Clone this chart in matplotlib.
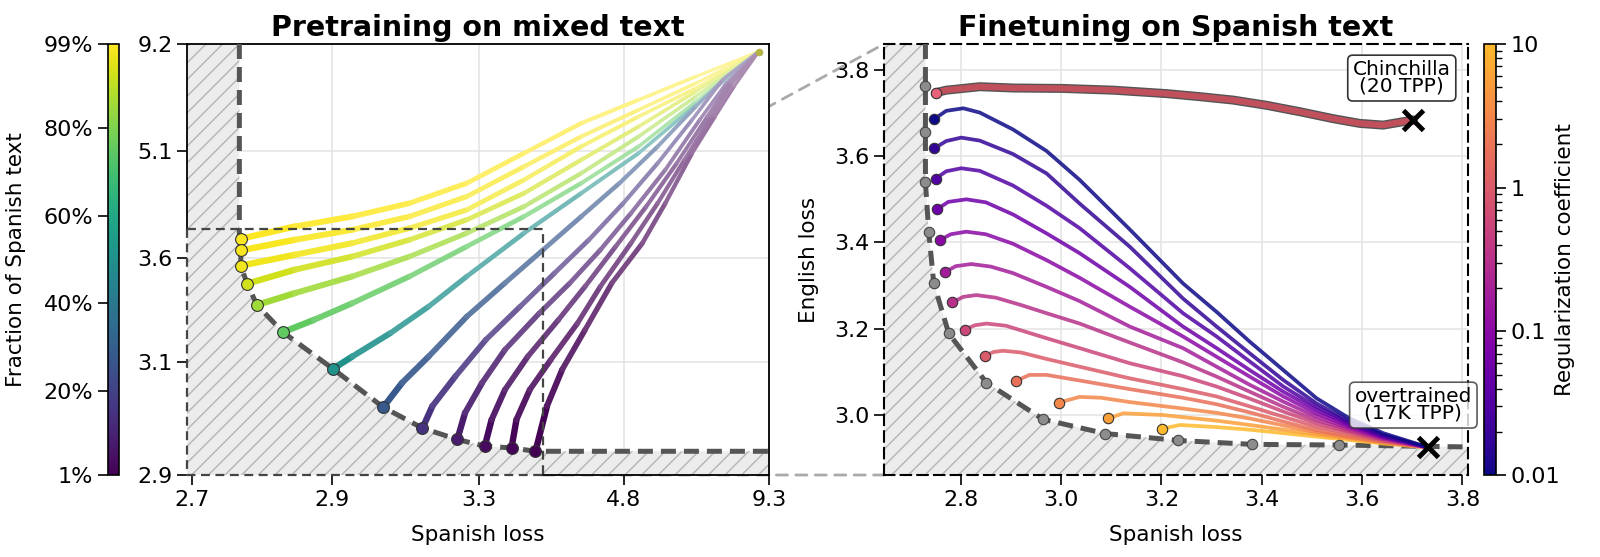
import numpy as np
import matplotlib
matplotlib.use("Agg")
import matplotlib.pyplot as plt
import matplotlib.patheffects as pe
from matplotlib.collections import LineCollection
from matplotlib.colors import Normalize, LogNorm, ListedColormap
from matplotlib.patches import Polygon, ConnectionPatch
from matplotlib.cm import ScalarMappable

plt.rcParams['font.family'] = 'DejaVu Sans'
plt.rcParams['hatch.linewidth'] = 1.0

# ---------------- left panel: pretraining runs ----------------
# warped loss axes: tick values and where they sit (in tick units)
pre_xticks = [2.7, 2.9, 3.3, 4.8, 9.3]
pre_yticks = [2.9, 3.1, 3.6, 5.1, 9.2]
pre_xknots = [2.6, 2.7, 2.9, 3.3, 4.8, 9.3, 10.0]
pre_xknot_pos = [-0.4875, 0, 0.975, 1.991, 2.995, 4.0, 4.156]
pre_yknots = [2.8, 2.9, 3.1, 3.6, 5.1, 9.2, 10.0]
pre_yknot_pos = [-0.524, 0, 1.048, 2.018, 3.008, 4.0, 4.19]

fractions = [99, 98, 97, 92, 85, 75, 50, 28, 15, 8, 4, 2, 1]  # % Spanish

# each run listed from the end of training back to the shared init point
pre_x = [
    [2.770, 2.847, 2.955, 3.111, 3.267, 3.767, 4.359, 5.256, 7.032, 8.985],
    [2.770, 2.847, 2.955, 3.111, 3.267, 3.767, 4.359, 5.256, 7.032, 8.985],
    [2.770, 2.847, 2.955, 3.111, 3.267, 3.767, 4.359, 5.256, 7.032, 8.985],
    [2.779, 2.847, 2.955, 3.111, 3.267, 3.767, 4.359, 5.256, 7.032, 8.985],
    [2.793, 2.847, 2.955, 3.111, 3.267, 3.767, 4.359, 5.256, 7.032, 8.985],
    [2.830, 2.874, 2.955, 3.111, 3.267, 3.767, 4.359, 5.256, 7.032, 8.985],
    [2.902, 2.955, 3.059, 3.163, 3.267, 3.767, 4.359, 5.256, 7.032, 8.985],
    [3.039, 3.090, 3.163, 3.267, 3.569, 3.964, 4.359, 4.754, 5.848, 7.032, 7.979, 8.985],
    [3.146, 3.173, 3.236, 3.372, 3.727, 4.083, 4.438, 4.794, 5.848, 6.914, 7.861, 8.985],
    [3.241, 3.262, 3.332, 3.569, 3.925, 4.241, 4.557, 5.019, 6.085, 7.150, 7.979, 8.985],
    [3.360, 3.431, 3.569, 3.806, 4.122, 4.399, 4.715, 5.493, 6.440, 7.387, 8.097, 8.985],
    [3.637, 3.688, 3.826, 4.043, 4.320, 4.557, 5.019, 5.848, 6.677, 7.506, 8.157, 8.985],
    [3.885, 4.004, 4.162, 4.399, 4.675, 5.374, 6.085, 6.914, 7.624, 8.216, 8.985],
]
pre_y = [
    [3.864, 4.037, 4.178, 4.365, 4.646, 5.068, 6.162, 7.056, 7.951, 8.910],
    [3.700, 3.850, 3.991, 4.178, 4.459, 4.880, 5.651, 6.673, 7.696, 8.910],
    [3.561, 3.639, 3.803, 4.014, 4.271, 4.693, 5.268, 6.417, 7.504, 8.910],
    [3.475, 3.542, 3.615, 3.850, 4.131, 4.505, 4.974, 6.034, 7.376, 8.910],
    [3.373, 3.430, 3.510, 3.615, 3.944, 4.318, 4.786, 5.651, 7.184, 8.910],
    [3.243, 3.302, 3.382, 3.510, 3.756, 4.178, 4.646, 5.268, 6.992, 8.910],
    [3.088, 3.127, 3.239, 3.366, 3.510, 3.944, 4.505, 5.068, 6.864, 8.910],
    [3.020, 3.063, 3.127, 3.318, 3.478, 3.709, 4.178, 4.646, 5.268, 6.801, 7.951, 8.910],
    [2.983, 3.022, 3.075, 3.207, 3.366, 3.526, 3.850, 4.365, 4.927, 6.290, 7.823, 8.910],
    [2.963, 3.010, 3.063, 3.159, 3.334, 3.478, 3.709, 4.224, 4.834, 6.290, 7.696, 8.910],
    [2.951, 2.998, 3.051, 3.127, 3.302, 3.462, 3.756, 4.318, 4.927, 6.417, 7.760, 8.910],
    [2.948, 2.998, 3.051, 3.111, 3.286, 3.462, 3.803, 4.365, 4.974, 6.417, 7.696, 8.910],
    [2.942, 3.022, 3.087, 3.255, 3.478, 3.803, 4.365, 5.068, 6.417, 7.568, 8.910],
]

pre_front_x = [2.768, 2.768, 2.770, 2.770, 2.779, 2.793, 2.830, 2.902, 3.039,
               3.146, 3.241, 3.360, 3.637, 3.885, 9.3]
pre_front_y = [9.2, 3.864, 3.700, 3.561, 3.475, 3.373, 3.243, 3.088, 3.020,
               2.983, 2.963, 2.951, 2.948, 2.942, 2.942]
zoom_box = (3.963, 4.0)  # upper-right corner of the zoomed region

# ---------------- right panel: finetuning runs ----------------
reg_coefs = [0.01, 0.0178, 0.0316, 0.0562, 0.1, 0.178, 0.316, 0.562, 1.0,
             1.78, 3.16, 5.62, 10.0]
ft_x = [
    [2.747, 2.771, 2.805, 2.838, 2.904, 2.971, 3.037, 3.137, 3.243, 3.310, 3.376, 3.443, 3.509, 3.575, 3.642, 3.732],
    [2.747, 2.771, 2.801, 2.838, 2.904, 2.971, 3.037, 3.137, 3.243, 3.310, 3.376, 3.443, 3.509, 3.575, 3.642, 3.732],
    [2.750, 2.771, 2.801, 2.838, 2.904, 2.971, 3.037, 3.137, 3.243, 3.310, 3.376, 3.443, 3.509, 3.575, 3.642, 3.732],
    [2.753, 2.775, 2.811, 2.850, 2.904, 2.971, 3.037, 3.137, 3.243, 3.310, 3.376, 3.443, 3.509, 3.575, 3.642, 3.732],
    [2.758, 2.780, 2.811, 2.850, 2.904, 2.971, 3.037, 3.137, 3.243, 3.310, 3.376, 3.443, 3.509, 3.575, 3.642, 3.732],
    [2.768, 2.790, 2.821, 2.860, 2.904, 2.971, 3.037, 3.137, 3.243, 3.310, 3.376, 3.443, 3.509, 3.575, 3.642, 3.732],
    [2.783, 2.805, 2.831, 2.870, 2.920, 2.971, 3.037, 3.137, 3.243, 3.310, 3.376, 3.443, 3.509, 3.575, 3.642, 3.732],
    [2.808, 2.828, 2.851, 2.890, 2.971, 3.037, 3.137, 3.243, 3.310, 3.376, 3.443, 3.509, 3.575, 3.642, 3.732],
    [2.848, 2.865, 2.884, 2.920, 2.971, 3.037, 3.137, 3.243, 3.310, 3.376, 3.443, 3.509, 3.575, 3.642, 3.732],
    [2.910, 2.937, 2.971, 3.037, 3.137, 3.243, 3.310, 3.376, 3.443, 3.509, 3.575, 3.642, 3.732],
    [2.996, 3.037, 3.080, 3.137, 3.243, 3.310, 3.376, 3.443, 3.509, 3.575, 3.642, 3.732],
    [3.094, 3.124, 3.203, 3.243, 3.310, 3.376, 3.443, 3.509, 3.575, 3.642, 3.732],
    [3.201, 3.237, 3.310, 3.376, 3.443, 3.509, 3.575, 3.642, 3.732],
]
ft_y = [
    [3.686, 3.705, 3.711, 3.701, 3.662, 3.612, 3.545, 3.430, 3.305, 3.239, 3.170, 3.104, 3.039, 2.992, 2.958, 2.925],
    [3.618, 3.635, 3.643, 3.636, 3.605, 3.560, 3.490, 3.390, 3.270, 3.205, 3.143, 3.081, 3.027, 2.985, 2.954, 2.925],
    [3.548, 3.565, 3.572, 3.566, 3.532, 3.485, 3.433, 3.340, 3.236, 3.182, 3.124, 3.066, 3.019, 2.981, 2.951, 2.925],
    [3.477, 3.494, 3.500, 3.493, 3.465, 3.421, 3.375, 3.297, 3.205, 3.155, 3.104, 3.054, 3.012, 2.977, 2.950, 2.925],
    [3.405, 3.419, 3.425, 3.419, 3.397, 3.359, 3.318, 3.251, 3.182, 3.135, 3.089, 3.043, 3.004, 2.973, 2.948, 2.925],
    [3.331, 3.345, 3.350, 3.344, 3.329, 3.297, 3.264, 3.205, 3.155, 3.112, 3.070, 3.031, 2.996, 2.969, 2.946, 2.925],
    [3.261, 3.274, 3.278, 3.272, 3.255, 3.236, 3.212, 3.168, 3.122, 3.089, 3.054, 3.019, 2.988, 2.965, 2.944, 2.925],
    [3.198, 3.208, 3.212, 3.207, 3.178, 3.155, 3.120, 3.090, 3.066, 3.038, 3.008, 2.981, 2.961, 2.942, 2.925],
    [3.137, 3.146, 3.149, 3.145, 3.130, 3.112, 3.085, 3.060, 3.043, 3.020, 2.996, 2.973, 2.957, 2.940, 2.925],
    [3.079, 3.093, 3.093, 3.080, 3.060, 3.040, 3.025, 3.006, 2.985, 2.965, 2.950, 2.938, 2.925],
    [3.029, 3.042, 3.040, 3.030, 3.015, 3.005, 2.992, 2.976, 2.960, 2.948, 2.937, 2.925],
    [2.992, 3.004, 3.000, 2.995, 2.987, 2.977, 2.966, 2.955, 2.945, 2.936, 2.925],
    [2.968, 2.977, 2.972, 2.966, 2.958, 2.950, 2.942, 2.934, 2.925],
]

chin_x = [2.750, 2.771, 2.838, 2.904, 3.004, 3.104, 3.210, 3.276, 3.343, 3.409,
          3.476, 3.542, 3.595, 3.642, 3.702]
chin_y = [3.747, 3.753, 3.761, 3.758, 3.757, 3.753, 3.745, 3.738, 3.730, 3.718,
          3.703, 3.687, 3.676, 3.672, 3.684]

ft_front_x = [2.7296, 2.7296, 2.7296, 2.7296, 2.7362, 2.7462, 2.7761, 2.8512,
              2.9641, 3.0884, 3.2339, 3.3807, 3.5542, 3.811]
ft_front_y = [3.86, 3.762, 3.655, 3.539, 3.424, 3.305, 3.189, 3.075,
              2.990, 2.957, 2.941, 2.932, 2.9305, 2.926]
overtrained = (3.732, 2.925)
chinchilla = (3.702, 3.684)

ft_xlim = (2.647, 3.811)
ft_ylim = (2.861, 3.860)
pre_xlim = (2.6936, 9.3)
pre_ylim = (2.9, 9.2)

# ---------------- figure ----------------
fig = plt.figure(figsize=(16, 5.57), dpi=100)
y0, h = 82 / 557, 431 / 557
caxL = fig.add_axes([108 / 1600, y0, 11 / 1600, h])
axL = fig.add_axes([187 / 1600, y0, 582 / 1600, h])
axR = fig.add_axes([884 / 1600, y0, 584 / 1600, h])
caxR = fig.add_axes([1484 / 1600, y0, 12 / 1600, h])

fx = lambda v: np.interp(v, pre_xknots, pre_xknot_pos)
fxi = lambda u: np.interp(u, pre_xknot_pos, pre_xknots)
fy = lambda v: np.interp(v, pre_yknots, pre_yknot_pos)
fyi = lambda u: np.interp(u, pre_yknot_pos, pre_yknots)
axL.set_xscale('function', functions=(fx, fxi))
axL.set_yscale('function', functions=(fy, fyi))
axL.set_xlim(*pre_xlim)
axL.set_ylim(*pre_ylim)

vir = plt.cm.viridis
fnorm = Normalize(1, 99)
front_c = '#555555'
hatch_kw = dict(facecolor='#ececec', edgecolor='#b4b4b4', hatch='//', lw=0, zorder=1)


def blend(c, a):
    c = np.asarray(c[:3])
    return tuple(c * a + (1 - a))


# hatched "unreachable" region
poly = [(pre_xlim[0], pre_ylim[1])] + list(zip(pre_front_x, pre_front_y)) + \
       [(pre_xlim[1], pre_ylim[0]), (pre_xlim[0], pre_ylim[0])]
axL.add_patch(Polygon(poly, closed=True, **hatch_kw))
axL.plot(pre_front_x, pre_front_y, color=front_c, lw=3.6, dashes=(3, 1.6), zorder=3)

for frac, xs, ys in zip(fractions, pre_x, pre_y):
    pts = np.column_stack([xs, ys])
    segs = np.stack([pts[:-1], pts[1:]], axis=1)
    n = len(segs)
    t = np.arange(n) / (n - 1)
    col = vir(fnorm(frac))
    cols = [blend(col, a) for a in 1 - 0.55 * t ** 0.8]
    lws = 4.6 - 2.3 * t
    axL.add_collection(LineCollection(segs, colors=cols, linewidths=lws,
                                      capstyle='round', zorder=4))
for frac, xs, ys in zip(fractions, pre_x, pre_y):
    axL.plot(xs[0], ys[0], 'o', ms=8.5, mfc=vir(fnorm(frac)), mec='#333333',
             mew=0.8, zorder=6)
axL.plot(pre_x[0][-1], pre_y[0][-1], 'o', ms=4.5, color='#b4b446', zorder=6)

# zoom rectangle
bx, by = zoom_box
axL.plot([pre_xlim[0], bx, bx], [by, by, pre_ylim[0]], color='#444444', lw=1.6,
         dashes=(4, 2.5), zorder=5, clip_on=False)
axL.plot([pre_xlim[0], pre_xlim[0], bx], [by, pre_ylim[0], pre_ylim[0]],
         color='#444444', lw=1.6, dashes=(4, 2.5), zorder=5, clip_on=False)
axL.spines['left'].set_bounds(by, pre_ylim[1])
axL.spines['bottom'].set_bounds(bx, pre_xlim[1])
for s in axL.spines.values():
    s.set_linewidth(1.3)

axL.set_xticks(pre_xticks)
axL.set_xticklabels([f'{v:.1f}' for v in pre_xticks])
axL.set_yticks(pre_yticks)
axL.set_yticklabels([f'{v:.1f}' for v in pre_yticks])
axL.minorticks_off()
axL.grid(True, color='#e3e3e3', lw=1.1, zorder=0)
axL.set_axisbelow(True)
axL.tick_params(labelsize=16, length=7, width=1.2)
axL.set_xlabel('Spanish loss', fontsize=15.5, labelpad=11)
axL.set_title('Pretraining on mixed text', fontsize=20.5, fontweight='bold')

cbL = fig.colorbar(ScalarMappable(norm=fnorm, cmap=vir), cax=caxL)
cbL.set_ticks([1, 20, 40, 60, 80, 99])
cbL.set_ticklabels(['1%', '20%', '40%', '60%', '80%', '99%'])
caxL.yaxis.set_ticks_position('left')
caxL.yaxis.set_label_position('left')
caxL.tick_params(labelsize=16, length=7, width=1.2)
cbL.set_label('Fraction of Spanish text', fontsize=15.5, labelpad=13)
cbL.outline.set_linewidth(1.2)

# ---------------- right panel ----------------
pl = ListedColormap(plt.cm.plasma(np.linspace(0, 0.85, 256)))
rnorm = LogNorm(0.01, 10)

rpoly = [(ft_xlim[0], ft_ylim[1])] + list(zip(ft_front_x, ft_front_y)) + \
        [(ft_xlim[1], ft_ylim[0]), (ft_xlim[0], ft_ylim[0])]
axR.add_patch(Polygon(rpoly, closed=True, **hatch_kw))
axR.plot(ft_front_x, ft_front_y, color=front_c, lw=3.6, dashes=(3, 1.6), zorder=3)
axR.plot(ft_front_x[1:-1], ft_front_y[1:-1], 'o', ms=7.5, mfc='#8c8c8c',
         mec='#444444', mew=0.8, zorder=6)

for r, xs, ys in reversed(list(zip(reg_coefs, ft_x, ft_y))):
    axR.plot(xs, ys, color=pl(rnorm(r)), lw=2.7, alpha=0.85,
             solid_capstyle='round', zorder=4)
for r, xs, ys in zip(reg_coefs, ft_x, ft_y):
    axR.plot(xs[0], ys[0], 'o', ms=7.5, mfc=pl(rnorm(r)), mec='#333333', mew=0.8, zorder=6)

axR.plot(chin_x, chin_y, color='#c0505c', lw=4.5, solid_capstyle='round', zorder=5,
         path_effects=[pe.Stroke(linewidth=6.5, foreground='#555555'), pe.Normal()])
axR.plot(chin_x[0], chin_y[0], 'o', ms=7.5, mfc='#e8627a', mec='#333333', mew=0.8, zorder=6)

for px, py in (chinchilla, overtrained):
    axR.plot(px, py, marker='x', ms=14, mew=3.5, color='black', zorder=8)

axR.text(3.679, 3.781, 'Chinchilla\n(20 TPP)', fontsize=14.5, ha='center', va='center',
         linespacing=0.85, zorder=9,
         bbox=dict(boxstyle='round,pad=0.25', fc='white', ec='#333333', lw=1.2))
axR.text(3.702, 3.023, 'overtrained\n(17K TPP)', fontsize=14.5, ha='center', va='center',
         linespacing=0.85, zorder=9, clip_on=False,
         bbox=dict(boxstyle='round,pad=0.25', fc='white', ec='#333333', lw=1.2, alpha=0.8))

axR.set_xlim(*ft_xlim)
axR.set_ylim(*ft_ylim)
axR.set_xticks([2.8, 3.0, 3.2, 3.4, 3.6, 3.8])
axR.set_yticks([3.0, 3.2, 3.4, 3.6, 3.8])
axR.grid(True, color='#e3e3e3', lw=1.1, zorder=0)
axR.set_axisbelow(True)
axR.tick_params(labelsize=16, length=7, width=1.2)
for s in axR.spines.values():
    s.set_linestyle((0, (5, 3)))
    s.set_linewidth(1.5)
axR.set_xlabel('Spanish loss', fontsize=15.5, labelpad=11)
axR.set_ylabel('English loss', fontsize=15.5, labelpad=11)
axR.set_title('Finetuning on Spanish text', fontsize=20.5, fontweight='bold')

cbR = fig.colorbar(ScalarMappable(norm=rnorm, cmap=pl), cax=caxR)
cbR.set_ticks([0.01, 0.1, 1, 10])
cbR.set_ticklabels(['0.01', '0.1', '1', '10'])
caxR.tick_params(which='major', labelsize=16, length=7, width=1.2)
caxR.tick_params(which='minor', length=4, width=1.0)
cbR.set_label('Regularization coefficient', fontsize=15.5, labelpad=-4)
cbR.outline.set_linewidth(1.2)

# dashed connectors from the zoom box to the right panel
for yy, ay in ((by, 1), (pre_ylim[0], 0)):
    con = ConnectionPatch(xyA=(bx, yy), coordsA=axL.transData, xyB=(0, ay),
                          coordsB=axR.transAxes, color='#aaaaaa', lw=2,
                          linestyle=(0, (4, 3)), zorder=0)
    fig.add_artist(con)

fig.savefig('out.png', dpi=100)
